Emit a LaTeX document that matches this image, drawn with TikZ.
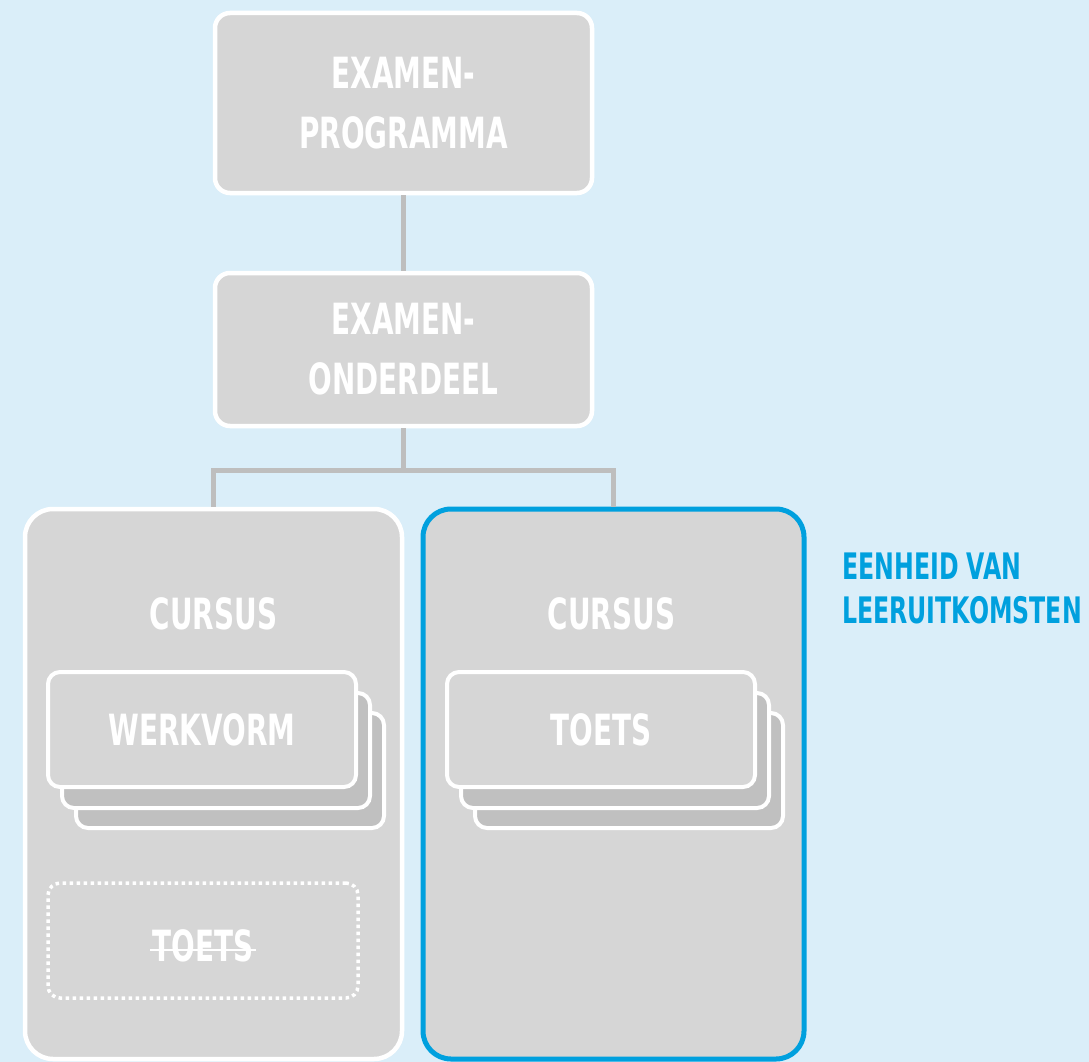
\documentclass[tikz,border=0pt]{standalone}
\usepackage{fontspec}
\setmainfont{DejaVu Sans Condensed}[FakeStretch=0.72]
\usetikzlibrary{positioning}

\definecolor{bgblue}{RGB}{218,238,249}
\definecolor{boxgray}{RGB}{214,214,214}
\definecolor{cardgray}{RGB}{192,192,192}
\definecolor{linegray}{RGB}{190,190,190}
\definecolor{unitblue}{RGB}{0,160,222}

\tikzset{
  lvl/.style={draw=white, line width=4.5, fill=boxgray, rounded corners=15,
    minimum width=377, text=white, align=center,
    font=\fontsize{43}{60}\selectfont\bfseries},
  course/.style={draw=white, line width=4.5, fill=boxgray, rounded corners=28,
    minimum height=550},
  card/.style={draw=white, line width=4, fill=boxgray, rounded corners=12,
    minimum width=308, minimum height=115, text=white,
    font=\fontsize{43}{50}\selectfont\bfseries},
  backcard/.style={card, fill=cardgray},
  title/.style={text=white, inner sep=0, font=\fontsize{43}{50}\selectfont\bfseries},
  conn/.style={draw=linegray, line width=4.5},
}

\begin{document}
\begin{tikzpicture}[x=1pt, y=-1pt]
\useasboundingbox (0,0) rectangle (1089,1062);
\fill[bgblue] (0,0) rectangle (1089,1062);

% top levels
\node[lvl, minimum height=180] (prog) at (403.5,103) {EXAMEN-\\PROGRAMMA};
\node[lvl, minimum height=153] (part) at (403.5,349.5) {EXAMEN-\\ONDERDEEL};

% courses
\node[course, minimum width=377] (cl) at (213.5,784) {};
\node[course, minimum width=381, draw=unitblue, line width=5] (cr) at (613.5,784) {};

% connectors
\draw[conn] (prog) -- (part);
\draw[conn] (part.south) -- ++(0,42) coordinate (fork);
\draw[conn] (fork) -| (cl.north);
\draw[conn] (fork) -| (cr.north);

\node[title, anchor=base] (clt) at (213.5,629) {CURSUS};
\node[title, anchor=base] (crt) at (611.5,629) {CURSUS};

% stacked cards
\node[backcard] (wv3) at (230,770.5) {};
\node[backcard] (wv2) at (216,750.5) {};
\node[card] (wv) at (202,729.5) {WERKVORM};
\node[backcard] (ts3) at (629,770.5) {};
\node[backcard] (ts2) at (615,750.5) {};
\node[card] (ts) at (601,729.5) {TOETS};

% dropped test
\node[card, fill=none, minimum width=310, line width=3.5, dash pattern=on 3.5pt off 3.5pt] (drop) at (203,940.5) {};
\node[title, anchor=base] (dropt) at (203,961) {TOETS};
\draw[white, line width=2] ([xshift=-2,yshift=11]dropt.base west) -- ([xshift=2,yshift=11]dropt.base east);

% unit label
\node[anchor=west, align=left, inner sep=0, text=unitblue,
  font=\fontsize{36.5}{44}\selectfont\bfseries] (unit) at (842,588) {EENHEID VAN\\LEERUITKOMSTEN};
\end{tikzpicture}
\end{document}
